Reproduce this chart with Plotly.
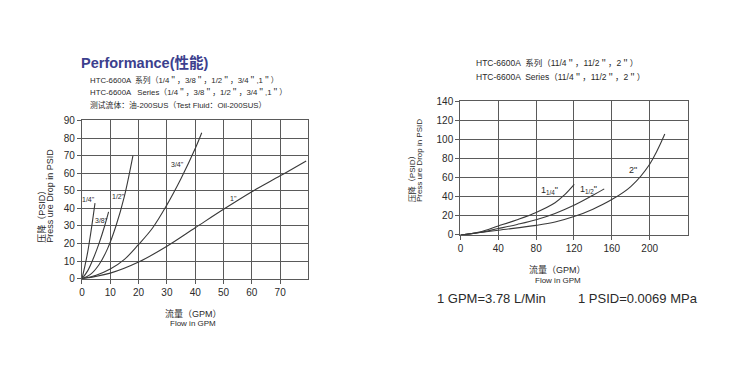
import plotly.graph_objects as go

W, H = 740, 367

# ---------------- data (left chart) ----------------
flow_14 = [0, 1, 2, 3, 4, 4.6]
dp_14 = [0, 7, 15, 25, 36, 43]
flow_38 = [0, 2, 4, 6, 8, 9.4]
dp_38 = [0, 4.5, 11.5, 20, 30, 38]
flow_12 = [0, 3, 6, 9, 12, 15, 18]
dp_12 = [0, 2.5, 8, 17, 30, 47, 70]
flow_34 = [0, 5, 10, 15, 20, 25, 30, 35, 40, 42.3]
dp_34 = [0, 2, 5.5, 11, 19.5, 29, 42, 57, 74, 83]
flow_1 = [0, 10, 20, 30, 40, 50, 60, 70, 79.2]
dp_1 = [0, 3.2, 9.5, 18.5, 29, 39.5, 49.5, 58.5, 67]

left_xticks = [0, 10, 20, 30, 40, 50, 60, 70]
left_yticks = [0, 10, 20, 30, 40, 50, 60, 70, 80, 90]

# ---------------- data (right chart) ----------------
flow_114 = [0, 20, 40, 60, 80, 100, 110, 120.3]
dp_114 = [0, 3, 9.4, 16, 23.6, 33.7, 42, 53]
flow_112 = [0, 20, 40, 60, 80, 100, 120, 140, 152]
dp_112 = [0, 2.5, 6.7, 11, 15.9, 22.5, 31, 41.5, 48.2]
flow_2 = [0, 40, 80, 100, 120, 140, 160, 180, 200, 216]
dp_2 = [0, 5, 10, 13.5, 19.2, 27, 37, 50.6, 74, 105.5]

right_xticks = [0, 40, 80, 120, 160, 200]
right_yticks = [0, 20, 40, 60, 80, 100, 120, 140]

FONT = "Liberation Sans, Arial, Noto Sans CJK SC, sans-serif"
CJK = "Liberation Sans, Noto Sans CJK SC, sans-serif"
LINE = "#3a3a3a"
GRID = "#5a5a5a"
TXT = "#2a2a2a"


def pxx(x):
    return x / W


def pxy(y):
    return 1 - y / H


fig = go.Figure()

left_series = [(flow_14, dp_14), (flow_38, dp_38), (flow_12, dp_12), (flow_34, dp_34), (flow_1, dp_1)]
for fx, fy in left_series:
    fig.add_trace(go.Scatter(x=fx, y=fy, mode="lines", line=dict(color=LINE, width=1.1, shape="spline"),
                             xaxis="x", yaxis="y", showlegend=False, hoverinfo="skip"))

right_series = [(flow_114, dp_114), (flow_112, dp_112), (flow_2, dp_2)]
for fx, fy in right_series:
    fig.add_trace(go.Scatter(x=fx, y=fy, mode="lines", line=dict(color=LINE, width=1.1, shape="spline"),
                             xaxis="x2", yaxis="y2", showlegend=False, hoverinfo="skip"))

axis_common = dict(showline=True, linecolor=GRID, linewidth=1.4, mirror=True, showgrid=True,
                   gridcolor=GRID, gridwidth=1.4, zeroline=False, ticks="outside", ticklen=4,
                   tickcolor=GRID, tickwidth=1.2, tickfont=dict(family=FONT, size=10, color=TXT))

fig.update_layout(
    width=W, height=H, margin=dict(l=0, r=0, t=0, b=0),
    paper_bgcolor="white", plot_bgcolor="white",
    xaxis=dict(domain=[pxx(79.3), pxx(306.7)], range=[0, 80], tickvals=left_xticks, anchor="y", **axis_common),
    yaxis=dict(domain=[pxy(282), pxy(118.3)], range=[0, 90], tickvals=left_yticks, anchor="x", **axis_common),
    xaxis2=dict(domain=[pxx(459.3), pxx(687.3)], range=[0, 240], tickvals=right_xticks, anchor="y2", **axis_common),
    yaxis2=dict(domain=[pxy(236.7), pxy(98.3)], range=[0, 140], tickvals=right_yticks, anchor="x2", **axis_common),
)

ann = []


def text(x, y, s, size, xanchor="left", yanchor="middle", color=TXT, angle=0, family=CJK):
    ann.append(dict(x=pxx(x), y=pxy(y), xref="paper", yref="paper", text=s, showarrow=False,
                    xanchor=xanchor, yanchor=yanchor, textangle=angle,
                    font=dict(family=family, size=size, color=color)))


# Left headers
text(76, 58, "<b>Performance(性能)</b>", 14.5, color="#3c3f8e")
text(85, 76, "HTC-6600A  系列（1/4＂，3/8＂，1/2＂，3/4＂,1＂）", 7.8)
text(85, 89, "HTC-6600A   Series（1/4＂，3/8＂，1/2＂，3/4＂,1＂）", 7.8)
text(85, 102, "测试流体：油-200SUS（Test Fluid：Oil-200SUS）", 7.8)

# Right headers
text(473, 59, "HTC-6600A  系列（11/4＂，11/2＂，2＂）", 8.5)
text(473, 73, "HTC-6600A  Series（11/4＂，11/2＂，2＂）", 8.5)

# Left axis titles
text(191, 317.5, "流量（GPM）", 9, xanchor="center")
text(191, 328.5, "Flow in GPM", 8, xanchor="center")
text(38.5, 247, "压降（PSID）", 9, xanchor="center", yanchor="bottom", angle=-90)
text(47, 247, "Press ure Drop in PSID", 9, xanchor="center", yanchor="bottom", angle=-90)

# Right axis titles
text(557, 272.5, "流量（GPM）", 9, xanchor="center")
text(557, 283.5, "Flow in GPM", 8, xanchor="center")
text(410, 205, "压降（PSID）", 8, xanchor="center", yanchor="bottom", angle=-90)
text(418, 205, "Press ure Drop in PSID", 8, xanchor="center", yanchor="bottom", angle=-90)

# Conversion notes
text(490, 302.5, "1 GPM=3.78 L/Min", 13, xanchor="center")
text(638, 302.5, "1 PSID=0.0069 MPa", 13, xanchor="center")

fig.update_layout(annotations=ann)

# Curve labels (data coords)
curve_labels_left = [(2.4, 45, "1/4\""), (6.75, 33, "3/8\""), (12.9, 47, "1/2\""), (33.7, 65, "3/4\""), (53.7, 45.5, "1\"")]
for x, y, s in curve_labels_left:
    fig.add_annotation(x=x, y=y, xref="x", yref="y", text=s, showarrow=False,
                       font=dict(family=FONT, size=7, color=TXT))

curve_labels_right = [(94.4, 47, "1<sub>1/4</sub>\""), (135.5, 48, "1<sub>1/2</sub>\""), (182.6, 68.4, "2\"")]
for x, y, s in curve_labels_right:
    fig.add_annotation(x=x, y=y, xref="x2", yref="y2", text=s, showarrow=False,
                       font=dict(family=FONT, size=9, color=TXT))

fig.write_html("out.html", config={"displayModeBar": False},
               post_script="document.body.style.margin='0';document.body.style.padding='0';document.body.style.overflow='hidden';")
